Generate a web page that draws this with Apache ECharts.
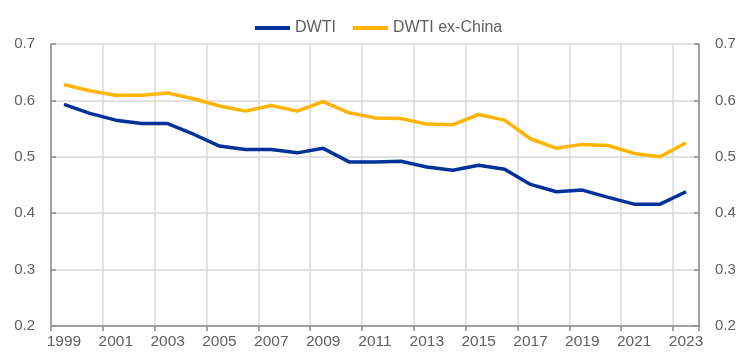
<!DOCTYPE html>
<html>
<head>
<meta charset="utf-8">
<script src="https://cdn.jsdelivr.net/npm/echarts@6/dist/echarts.min.js"></script>
<style>html,body{margin:0;padding:0;background:#fff}#c{width:756px;height:357px}</style>
</head>
<body>
<div id="c"></div>
<script>
const years = ['1999','2000','2001','2002','2003','2004','2005','2006','2007','2008','2009','2010','2011','2012','2013','2014','2015','2016','2017','2018','2019','2020','2021','2022','2023'];
const dwti = [0.593,0.577,0.565,0.559,0.559,0.540,0.519,0.513,0.513,0.507,0.515,0.491,0.491,0.492,0.482,0.476,0.485,0.478,0.451,0.438,0.441,0.428,0.416,0.416,0.438];
const dwtiExChina = [0.628,0.617,0.609,0.609,0.613,0.603,0.590,0.581,0.591,0.581,0.598,0.578,0.569,0.568,0.558,0.557,0.575,0.565,0.532,0.515,0.522,0.520,0.506,0.500,0.525];
const yTicks = {min: 0.2, max: 0.7, step: 0.1};

const font = 'Liberation Sans, Arial, sans-serif';
const axisGrey = '#8c8c8c';
const gridGrey = '#d9d9d9';
const textGrey = '#5f5f5f';

const yAxisBase = {
  type: 'value', min: yTicks.min, max: yTicks.max, interval: yTicks.step,
  axisLine: {show: true, lineStyle: {color: axisGrey, width: 1.5}},
  axisTick: {show: true, inside: true, length: 5, lineStyle: {color: axisGrey, width: 1.5}},
  axisLabel: {color: textGrey, fontFamily: font, fontSize: 15, margin: 16, formatter: v => v.toFixed(1)}
};

const chart = echarts.init(document.getElementById('c'), null, {renderer: 'canvas'});
chart.setOption({
  animation: false,
  backgroundColor: '#fff',
  legend: {
    top: 15, left: 250, itemGap: 17, itemWidth: 35, itemHeight: 4, icon: 'rect',
    textStyle: {color: textGrey, fontFamily: font, fontSize: 16},
    data: ['DWTI', 'DWTI ex-China']
  },
  grid: {left: 51, right: 57, top: 44, bottom: 31, containLabel: false},
  xAxis: {
    type: 'category', data: years, boundaryGap: true,
    axisLine: {show: true, lineStyle: {color: axisGrey, width: 1.5}},
    axisTick: {show: true, interval: 1, length: 5, lineStyle: {color: axisGrey, width: 1.5}},
    axisLabel: {interval: 1, color: textGrey, fontFamily: font, fontSize: 15.5, margin: 8},
    splitLine: {show: true, interval: 1, lineStyle: {color: gridGrey, width: 1.5}}
  },
  yAxis: [
    Object.assign({}, yAxisBase, {position: 'left', splitLine: {show: true, lineStyle: {color: gridGrey, width: 1.5}}}),
    Object.assign({}, yAxisBase, {position: 'right', splitLine: {show: false}})
  ],
  series: [
    {name: 'DWTI', type: 'line', data: dwti, showSymbol: false, symbol: 'none', lineStyle: {color: '#003299', width: 3.5}, itemStyle: {color: '#003299'}},
    {name: 'DWTI ex-China', type: 'line', data: dwtiExChina, showSymbol: false, symbol: 'none', lineStyle: {color: '#FFB400', width: 3.5}, itemStyle: {color: '#FFB400'}}
  ]
});
</script>
</body>
</html>
